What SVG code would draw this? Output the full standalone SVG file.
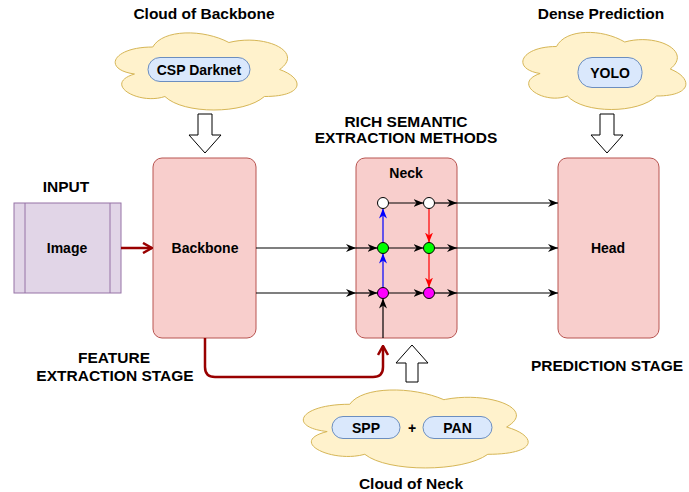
<svg xmlns="http://www.w3.org/2000/svg" width="689" height="492" viewBox="0 0 689 492">
<style>
text{font-family:"Liberation Sans",Arial,sans-serif;font-weight:bold;text-anchor:middle;fill:#000}
.t{font-size:15.5px}
.l{font-size:14px}
.red{fill:#f8cecc;stroke:#b85450;stroke-width:1}
.cloud{fill:#fff2cc;stroke:#d6b656;stroke-width:1}
.pill{fill:#dae8fc;stroke:#6c8ebf;stroke-width:1}
.hollow{fill:#fff;stroke:#000;stroke-width:1}
.e{fill:none;stroke:#000;stroke-width:1.2}
.eb{fill:none;stroke:#0000ff;stroke-width:1.2}
.er{fill:none;stroke:#ff0000;stroke-width:1.2}
.ed{fill:none;stroke:#990000;stroke-width:2.5}
.n{stroke:#000;stroke-width:1}
</style>
<defs>
<marker id="ak" viewBox="0 0 10 10" refX="10" refY="5" markerWidth="10" markerHeight="10" markerUnits="userSpaceOnUse" orient="auto"><path d="M0,1 L10,5 L0,9 L3,5 Z" fill="#000"/></marker>
<marker id="abl" viewBox="0 0 10 10" refX="10" refY="5" markerWidth="10" markerHeight="10" markerUnits="userSpaceOnUse" orient="auto"><path d="M0,1 L10,5 L0,9 L3,5 Z" fill="#0000ff"/></marker>
<marker id="ard" viewBox="0 0 10 10" refX="10" refY="5" markerWidth="10" markerHeight="10" markerUnits="userSpaceOnUse" orient="auto"><path d="M0,1 L10,5 L0,9 L3,5 Z" fill="#ff0000"/></marker>
<marker id="adr" viewBox="0 0 12 12" refX="11" refY="6" markerWidth="12" markerHeight="12" markerUnits="userSpaceOnUse" orient="auto"><path d="M2,1 L11,6 L2,11" fill="none" stroke="#990000" stroke-width="2.5"/></marker>
</defs>

<g id="title-cloud-backbone"><text class="t" x="204" y="19">Cloud of Backbone</text></g>
<g id="title-dense"><text class="t" x="601" y="19">Dense Prediction</text></g>
<g id="title-rich"><text class="t" x="406" y="127">RICH SEMANTIC</text><text class="t" x="406" y="143">EXTRACTION METHODS</text></g>
<g id="title-input"><text class="t" x="66" y="192">INPUT</text></g>
<g id="title-feature"><text class="t" x="114" y="363">FEATURE</text><text class="t" x="115" y="381">EXTRACTION STAGE</text></g>
<g id="title-prediction"><text class="t" x="607" y="371">PREDICTION STAGE</text></g>
<g id="title-cloud-neck"><text class="t" x="411" y="489">Cloud of Neck</text></g>

<g id="cloud-backbone">
<path class="cloud" d="M152.75,47 C112.15,47 102,69.5 134.48,74 C102,83.9 138.54,105.5 164.93,96.5 C183.2,114.5 244.1,114.5 264.4,96.5 C305,96.5 305,78.5 279.6,69.5 C305,51.5 264.4,33.5 228.9,42.5 C203.5,29 162.9,29 152.75,47 Z"/>
<rect class="pill" x="148" y="57.5" width="102" height="24" rx="12"/>
<text class="l" x="199" y="74.5">CSP Darknet</text>
</g>

<g id="cloud-head">
<path class="cloud" d="M556.5,46.5 C520.1,46.5 511,69 540.1,73.5 C511,83.4 543.8,105 567.4,96 C583.8,114 638.4,114 656.6,96 C693,96 693,78 670.25,69 C693,51 656.6,33 624.75,42 C602,28.5 565.6,28.5 556.5,46.5 Z"/>
<rect class="pill" x="578" y="57.5" width="64" height="30" rx="14"/>
<text class="l" x="610" y="78">YOLO</text>
</g>

<g id="cloud-neck">
<path class="cloud" d="M349.75,404.25 C299.55,404.25 287,427 327.16,431.55 C287,441.56 332.18,463.4 364.81,454.3 C387.4,472.5 462.7,472.5 487.8,454.3 C538,454.3 538,436.1 506.6,427 C538,408.8 487.8,390.6 443.9,399.7 C412.5,386.05 362.3,386.05 349.75,404.25 Z"/>
<rect class="pill" x="332" y="416.5" width="68" height="22" rx="11"/>
<text class="l" x="366" y="433">SPP</text>
<text class="l" x="412" y="433">+</text>
<rect class="pill" x="423" y="416.5" width="69" height="22" rx="11"/>
<text class="l" x="457.5" y="433">PAN</text>
</g>

<g id="hollow-arrows">
<polygon class="hollow" points="198,114 212,114 212,135 221,135 205,153 189,135 198,135"/>
<polygon class="hollow" points="600,114 614,114 614,135 623,135 607,153 591,135 600,135"/>
<polygon class="hollow" points="412,345 428,363 418,363 418,382 406,382 406,363 396,363"/>
</g>

<g id="image">
<rect x="14" y="203" width="107" height="90" fill="#e1d5e7" stroke="#9673a6"/>
<line x1="25" y1="203" x2="25" y2="293" stroke="#9673a6"/>
<line x1="110" y1="203" x2="110" y2="293" stroke="#9673a6"/>
<text class="l" x="67" y="253">Image</text>
</g>

<g id="backbone">
<rect class="red" x="153" y="158" width="103" height="180" rx="9"/>
<text class="l" x="205" y="253">Backbone</text>
</g>

<g id="neck">
<rect class="red" x="356" y="158" width="101" height="180" rx="9"/>
<text class="l" x="406" y="178">Neck</text>
</g>

<g id="head">
<rect class="red" x="558" y="158" width="101" height="180" rx="9"/>
<text class="l" x="608" y="253">Head</text>
</g>

<g id="connectors">
<line class="ed" x1="121" y1="248" x2="152" y2="248" marker-end="url(#adr)"/>
<path class="ed" d="M205,338 V367 Q205,377 215,377 H373 Q383,377 383,367 V346" marker-end="url(#adr)"/>

<line class="e" x1="256" y1="248" x2="356" y2="248" marker-end="url(#ak)"/>
<line class="e" x1="356" y1="248" x2="377.5" y2="248" marker-end="url(#ak)"/>
<line class="e" x1="256" y1="293" x2="356" y2="293" marker-end="url(#ak)"/>
<line class="e" x1="356" y1="293" x2="377.5" y2="293" marker-end="url(#ak)"/>
<line class="e" x1="383" y1="338" x2="383" y2="298.5" marker-end="url(#ak)"/>

<line class="e" x1="388.5" y1="203" x2="423.5" y2="203" marker-end="url(#ak)"/>
<line class="e" x1="388.5" y1="248" x2="423.5" y2="248" marker-end="url(#ak)"/>
<line class="e" x1="388.5" y1="293" x2="423.5" y2="293" marker-end="url(#ak)"/>

<line class="eb" x1="383" y1="287.5" x2="383" y2="253.5" marker-end="url(#abl)"/>
<line class="eb" x1="383" y1="242.5" x2="383" y2="208.5" marker-end="url(#abl)"/>
<line class="er" x1="429" y1="208.5" x2="429" y2="242.5" marker-end="url(#ard)"/>
<line class="er" x1="429" y1="253.5" x2="429" y2="287.5" marker-end="url(#ard)"/>

<line class="e" x1="434.5" y1="203" x2="457" y2="203" marker-end="url(#ak)"/>
<line class="e" x1="434.5" y1="248" x2="457" y2="248" marker-end="url(#ak)"/>
<line class="e" x1="434.5" y1="293" x2="457" y2="293" marker-end="url(#ak)"/>
<line class="e" x1="457" y1="203" x2="558" y2="203" marker-end="url(#ak)"/>
<line class="e" x1="457" y1="248" x2="558" y2="248" marker-end="url(#ak)"/>
<line class="e" x1="457" y1="293" x2="558" y2="293" marker-end="url(#ak)"/>
</g>

<g id="neck-nodes">
<circle class="n" cx="383" cy="203" r="5.5" fill="#ffffff"/>
<circle class="n" cx="429" cy="203" r="5.5" fill="#ffffff"/>
<circle class="n" cx="383" cy="248" r="5.5" fill="#00ff00"/>
<circle class="n" cx="429" cy="248" r="5.5" fill="#00ff00"/>
<circle class="n" cx="383" cy="293" r="5.5" fill="#ff00ff"/>
<circle class="n" cx="429" cy="293" r="5.5" fill="#ff00ff"/>
</g>
</svg>
